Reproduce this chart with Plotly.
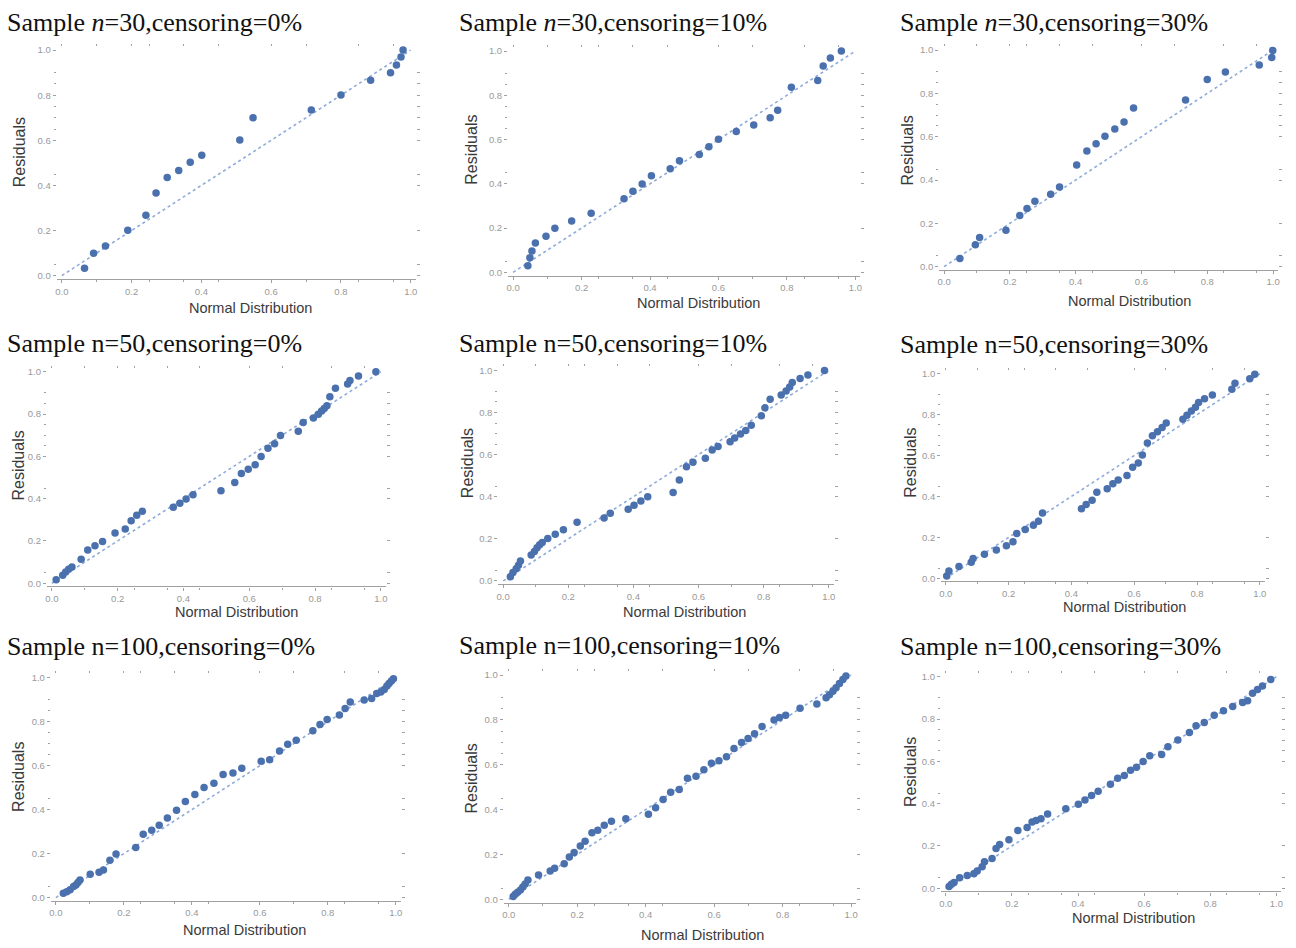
import plotly.graph_objects as go

# page body has an 8px default margin; positions below are given in page pixels
OFFSET = 8
W, H = 1296 - OFFSET, 948 - OFFSET

# ---------------- data ----------------
titles = [
    "Sample <i>n</i>=30,censoring=0%",
    "Sample <i>n</i>=30,censoring=10%",
    "Sample <i>n</i>=30,censoring=30%",
    "Sample n=50,censoring=0%",
    "Sample n=50,censoring=10%",
    "Sample n=50,censoring=30%",
    "Sample n=100,censoring=0%",
    "Sample n=100,censoring=10%",
    "Sample n=100,censoring=30%",
]
x_label = "Normal Distribution"
y_label = "Residuals"
tick_vals = [0.0, 0.2, 0.4, 0.6, 0.8, 1.0]
tick_text = ["0.0", "0.2", "0.4", "0.6", "0.8", "1.0"]
ref_line_x = [0.0, 1.0]
ref_line_y = [0.0, 1.0]

n30_c0_x = [0.065, 0.091, 0.125, 0.189, 0.241, 0.270, 0.302, 0.335, 0.368, 0.401,
            0.510, 0.548, 0.715, 0.800, 0.885, 0.942, 0.959, 0.972, 0.978]
n30_c0_y = [0.032, 0.099, 0.131, 0.201, 0.268, 0.366, 0.435, 0.466, 0.503, 0.534,
            0.601, 0.700, 0.734, 0.801, 0.866, 0.900, 0.934, 0.969, 1.000]

n30_c10_x = [0.043, 0.049, 0.055, 0.065, 0.096, 0.122, 0.171, 0.228, 0.324, 0.350,
             0.377, 0.404, 0.459, 0.486, 0.544, 0.572, 0.600, 0.652, 0.703, 0.751,
             0.773, 0.813, 0.890, 0.906, 0.927, 0.959]
n30_c10_y = [0.030, 0.066, 0.096, 0.132, 0.163, 0.199, 0.232, 0.267, 0.333, 0.366,
             0.399, 0.436, 0.468, 0.504, 0.532, 0.568, 0.601, 0.636, 0.666, 0.699,
             0.733, 0.837, 0.867, 0.933, 0.969, 1.000]

n30_c30_x = [0.048, 0.095, 0.108, 0.188, 0.230, 0.252, 0.276, 0.324, 0.351, 0.403,
             0.434, 0.462, 0.489, 0.519, 0.547, 0.576, 0.734, 0.800, 0.855, 0.958,
             0.996, 0.999]
n30_c30_y = [0.037, 0.101, 0.135, 0.168, 0.236, 0.268, 0.302, 0.334, 0.368, 0.469,
             0.534, 0.568, 0.602, 0.636, 0.668, 0.732, 0.769, 0.864, 0.899, 0.931,
             0.966, 0.998]

n50_c0_x = [0.013, 0.033, 0.042, 0.051, 0.061, 0.089, 0.109, 0.131, 0.154, 0.192,
            0.223, 0.241, 0.258, 0.275, 0.369, 0.389, 0.408, 0.429, 0.514, 0.556,
            0.576, 0.597, 0.618, 0.636, 0.657, 0.677, 0.695, 0.749, 0.764, 0.795,
            0.810, 0.820, 0.828, 0.836, 0.845, 0.862, 0.899, 0.906, 0.932, 0.985]
n50_c0_y = [0.016, 0.038, 0.053, 0.066, 0.077, 0.114, 0.157, 0.177, 0.197, 0.238,
            0.257, 0.296, 0.321, 0.340, 0.359, 0.378, 0.398, 0.418, 0.437, 0.476,
            0.519, 0.539, 0.560, 0.599, 0.638, 0.660, 0.699, 0.719, 0.760, 0.781,
            0.799, 0.815, 0.826, 0.839, 0.882, 0.922, 0.942, 0.959, 0.980, 1.000]

n50_c10_x = [0.022, 0.030, 0.040, 0.047, 0.053, 0.086, 0.096, 0.104, 0.112, 0.120,
             0.137, 0.160, 0.185, 0.227, 0.310, 0.329, 0.384, 0.402, 0.423, 0.444,
             0.522, 0.541, 0.563, 0.583, 0.621, 0.642, 0.660, 0.697, 0.711, 0.729,
             0.745, 0.762, 0.793, 0.804, 0.820, 0.854, 0.869, 0.880, 0.888, 0.912,
             0.936, 0.987]
n50_c10_y = [0.020, 0.040, 0.058, 0.075, 0.095, 0.123, 0.140, 0.158, 0.172, 0.183,
             0.202, 0.222, 0.243, 0.279, 0.299, 0.321, 0.340, 0.359, 0.380, 0.400,
             0.420, 0.480, 0.542, 0.564, 0.583, 0.622, 0.639, 0.661, 0.679, 0.698,
             0.715, 0.740, 0.784, 0.822, 0.863, 0.883, 0.902, 0.921, 0.942, 0.961,
             0.978, 1.000]

n50_c30_x = [0.003, 0.010, 0.042, 0.081, 0.087, 0.123, 0.161, 0.193, 0.214, 0.226,
             0.253, 0.279, 0.295, 0.308, 0.432, 0.447, 0.466, 0.481, 0.514, 0.532,
             0.549, 0.577, 0.595, 0.613, 0.626, 0.642, 0.658, 0.674, 0.689, 0.702,
             0.755, 0.768, 0.782, 0.795, 0.805, 0.824, 0.849, 0.911, 0.921, 0.968,
             0.984]
n50_c30_y = [0.011, 0.035, 0.058, 0.078, 0.097, 0.117, 0.138, 0.159, 0.178, 0.219,
             0.238, 0.259, 0.279, 0.319, 0.340, 0.361, 0.381, 0.421, 0.438, 0.462,
             0.481, 0.502, 0.543, 0.564, 0.603, 0.661, 0.697, 0.716, 0.737, 0.759,
             0.778, 0.797, 0.818, 0.836, 0.859, 0.878, 0.896, 0.924, 0.953, 0.976,
             0.997]

n100_c0_x = [0.022, 0.032, 0.042, 0.052, 0.059, 0.065, 0.071, 0.101, 0.127, 0.140,
             0.159, 0.177, 0.235, 0.257, 0.282, 0.304, 0.328, 0.355, 0.381, 0.409,
             0.436, 0.465, 0.492, 0.521, 0.547, 0.604, 0.629, 0.658, 0.682, 0.707,
             0.756, 0.777, 0.798, 0.834, 0.851, 0.866, 0.907, 0.929, 0.944, 0.956,
             0.966, 0.974, 0.980, 0.987, 0.993]
n100_c0_y = [0.020, 0.027, 0.035, 0.050, 0.057, 0.068, 0.080, 0.106, 0.115, 0.125,
             0.170, 0.198, 0.228, 0.288, 0.306, 0.329, 0.362, 0.397, 0.437, 0.469,
             0.501, 0.520, 0.560, 0.567, 0.588, 0.620, 0.627, 0.667, 0.697, 0.716,
             0.759, 0.787, 0.810, 0.830, 0.860, 0.890, 0.899, 0.906, 0.928, 0.935,
             0.947, 0.962, 0.974, 0.985, 0.995]

n100_c10_x = [0.013, 0.019, 0.026, 0.034, 0.041, 0.048, 0.056, 0.087, 0.121, 0.134,
              0.162, 0.177, 0.191, 0.209, 0.223, 0.243, 0.260, 0.279, 0.300, 0.342,
              0.408, 0.429, 0.451, 0.473, 0.498, 0.522, 0.547, 0.570, 0.592, 0.614,
              0.636, 0.658, 0.680, 0.699, 0.718, 0.740, 0.775, 0.791, 0.809, 0.851,
              0.900, 0.927, 0.937, 0.947, 0.956, 0.966, 0.976, 0.985]
n100_c10_y = [0.012, 0.022, 0.031, 0.041, 0.055, 0.068, 0.086, 0.108, 0.126, 0.138,
              0.158, 0.188, 0.209, 0.238, 0.259, 0.297, 0.308, 0.330, 0.348, 0.359,
              0.379, 0.408, 0.445, 0.478, 0.490, 0.540, 0.549, 0.578, 0.607, 0.618,
              0.636, 0.673, 0.700, 0.717, 0.738, 0.771, 0.800, 0.811, 0.821, 0.852,
              0.871, 0.899, 0.913, 0.928, 0.944, 0.963, 0.981, 0.996]

n100_c30_x = [0.010, 0.017, 0.025, 0.042, 0.065, 0.085, 0.095, 0.110, 0.117, 0.140,
              0.152, 0.163, 0.191, 0.218, 0.246, 0.261, 0.273, 0.288, 0.308, 0.363,
              0.401, 0.421, 0.441, 0.461, 0.498, 0.520, 0.540, 0.559, 0.577, 0.597,
              0.617, 0.653, 0.672, 0.702, 0.737, 0.757, 0.782, 0.812, 0.840, 0.868,
              0.898, 0.913, 0.928, 0.943, 0.958, 0.983]
n100_c30_y = [0.008, 0.019, 0.028, 0.050, 0.060, 0.069, 0.082, 0.102, 0.125, 0.141,
              0.188, 0.207, 0.230, 0.273, 0.288, 0.313, 0.321, 0.329, 0.351, 0.376,
              0.397, 0.418, 0.439, 0.459, 0.492, 0.520, 0.533, 0.558, 0.572, 0.599,
              0.627, 0.632, 0.669, 0.701, 0.737, 0.768, 0.784, 0.818, 0.839, 0.859,
              0.878, 0.887, 0.922, 0.940, 0.956, 0.987]

series = [
    (n30_c0_x, n30_c0_y), (n30_c10_x, n30_c10_y), (n30_c30_x, n30_c30_y),
    (n50_c0_x, n50_c0_y), (n50_c10_x, n50_c10_y), (n50_c30_x, n50_c30_y),
    (n100_c0_x, n100_c0_y), (n100_c10_x, n100_c10_y), (n100_c30_x, n100_c30_y),
]

# ---------------- layout geometry (page pixels) ----------------
# pixel positions of data value 0 and 1 on each axis: (x0, x1, y0, y1)
PANELS = [
    (60, 410, 274, 47.3),
    (512.7, 856, 270.7, 48.3),
    (945, 1275, 265, 47.3),
    (50, 380, 583.3, 370.7),
    (502.7, 829.3, 581, 369.3),
    (946.7, 1261.7, 578.3, 372.7),
    (54, 395, 899.3, 678.3),
    (508.3, 851.7, 901, 675.7),
    (946.7, 1278.3, 890, 677.3),
]
TITLE_POS = [(3, 20), (456, 20), (899, 20),
             (3, 342), (456, 342), (899, 343),
             (3, 647), (456, 646), (899, 647)]
XLAB_POS = [(249, 307), (699, 302), (1131, 300),
            (235, 612), (685, 612), (1126, 607),
            (243, 932), (703, 937), (1135, 920)]
YLAB_POS = [(17, 150), (471, 148), (908, 148),
            (17, 465), (467, 463), (911, 462),
            (17, 778), (471, 780), (912, 773)]

PAD = 0.015
RNG = [-PAD, 1 + PAD]
bottom_minor = [0.1, 0.25, 0.35, 0.45, 0.7, 0.85, 0.95]
left_minor = [0.05, 0.45, 0.65, 0.7, 0.75, 0.85, 0.9]
top_ticks = [0.0, 0.1, 0.2, 0.25, 0.35, 0.45, 0.6, 0.7, 0.85, 0.95]
right_ticks = [0.0, 0.05, 0.2, 0.4, 0.45, 0.6, 0.65, 0.7, 0.75, 0.8, 0.85, 0.9]

PT_COLOR = "#4a70ad"
LINE_COLOR = "#8eabdb"
TICK_COLOR = "#a0a0a0"
TICK_FONT = dict(family="Liberation Sans, Arial", size=9.5, color="#999999")


def px_x(p):
    return (p - OFFSET) / W


def px_y(p):
    return 1 - (p - OFFSET) / H


fig = go.Figure()
layout = dict(
    width=W, height=H,
    margin=dict(l=0, r=0, t=0, b=0),
    paper_bgcolor="white", plot_bgcolor="white",
    showlegend=False,
    annotations=[],
)


def ax_name(letter, k):
    return f"{letter}axis" if k == 1 else f"{letter}axis{k}"


def ax_ref(letter, k):
    return letter if k == 1 else f"{letter}{k}"


for i, ((xs, ys), (x0, x1, y0, y1)) in enumerate(zip(series, PANELS)):
    k = i + 1
    xr, yr = ax_ref("x", k), ax_ref("y", k)
    sx, sy = x1 - x0, y0 - y1
    xd = [px_x(x0 - PAD * sx), px_x(x1 + PAD * sx)]
    yd = [px_y(y0 + PAD * sy), px_y(y1 - PAD * sy)]

    layout[ax_name("x", k)] = dict(
        domain=xd, anchor=yr, range=RNG, autorange=False,
        tickmode="array", tickvals=tick_vals, ticktext=tick_text,
        ticks="outside", ticklen=3, tickwidth=1, tickcolor=TICK_COLOR,
        tickfont=TICK_FONT, showgrid=False, zeroline=False,
        showline=True, linecolor="#a0a0a0", linewidth=1.3,
        minor=dict(tickmode="array", tickvals=bottom_minor, ticks="outside",
                   ticklen=2, tickcolor=TICK_COLOR, showgrid=False),
    )
    layout[ax_name("y", k)] = dict(
        domain=yd, anchor=xr, range=RNG, autorange=False,
        tickmode="array", tickvals=tick_vals, ticktext=tick_text,
        ticks="outside", ticklen=3, tickwidth=1, tickcolor=TICK_COLOR,
        tickfont=TICK_FONT, showgrid=False, zeroline=False, showline=False,
        minor=dict(tickmode="array", tickvals=left_minor, ticks="outside",
                   ticklen=2, tickcolor=TICK_COLOR, showgrid=False),
    )
    # top and right frame ticks (overlay axes)
    kt = k + 9
    layout[ax_name("x", kt)] = dict(
        overlaying=xr, anchor=yr, side="top", range=RNG, autorange=False,
        tickmode="array", tickvals=top_ticks, ticks="outside", ticklen=2,
        tickwidth=1, tickcolor=TICK_COLOR, showticklabels=False,
        showgrid=False, zeroline=False, showline=False,
    )
    layout[ax_name("y", kt)] = dict(
        overlaying=yr, anchor=xr, side="right", range=RNG, autorange=False,
        tickmode="array", tickvals=right_ticks, ticks="outside", ticklen=3,
        tickwidth=1, tickcolor=TICK_COLOR, showticklabels=False,
        showgrid=False, zeroline=False, showline=False,
    )
    fig.add_trace(go.Scatter(x=[None], y=[None], xaxis=ax_ref("x", kt), yaxis=yr,
                             mode="markers", hoverinfo="skip", showlegend=False))
    fig.add_trace(go.Scatter(x=[None], y=[None], xaxis=xr, yaxis=ax_ref("y", kt),
                             mode="markers", hoverinfo="skip", showlegend=False))

    # reference line and points
    fig.add_trace(go.Scatter(
        x=ref_line_x, y=ref_line_y, xaxis=xr, yaxis=yr, mode="lines",
        line=dict(color=LINE_COLOR, width=1.6, dash="dot"),
        hoverinfo="skip", showlegend=False, cliponaxis=False,
    ))
    fig.add_trace(go.Scatter(
        x=xs, y=ys, xaxis=xr, yaxis=yr, mode="markers",
        marker=dict(color=PT_COLOR, size=7.5, line=dict(width=0)),
        showlegend=False, cliponaxis=False,
    ))

    tx, ty = TITLE_POS[i]
    layout["annotations"].append(dict(
        text=titles[i], x=px_x(tx), y=px_y(ty), xref="paper", yref="paper",
        xanchor="left", yanchor="middle", showarrow=False,
        font=dict(family="Liberation Serif, Times New Roman", size=26, color="#111111"),
    ))
    lx, ly = XLAB_POS[i]
    layout["annotations"].append(dict(
        text=x_label, x=px_x(lx), y=px_y(ly), xref="paper", yref="paper",
        xanchor="center", yanchor="middle", showarrow=False,
        font=dict(family="Liberation Sans, Arial", size=14.5, color="#3a3a3a"),
    ))
    rx, ry = YLAB_POS[i]
    layout["annotations"].append(dict(
        text=y_label, x=px_x(rx), y=px_y(ry), xref="paper", yref="paper",
        xanchor="center", yanchor="middle", showarrow=False, textangle=-90,
        font=dict(family="Liberation Sans, Arial", size=16, color="#3a3a3a"),
    ))

fig.update_layout(**layout)
fig.write_html("out.html")
